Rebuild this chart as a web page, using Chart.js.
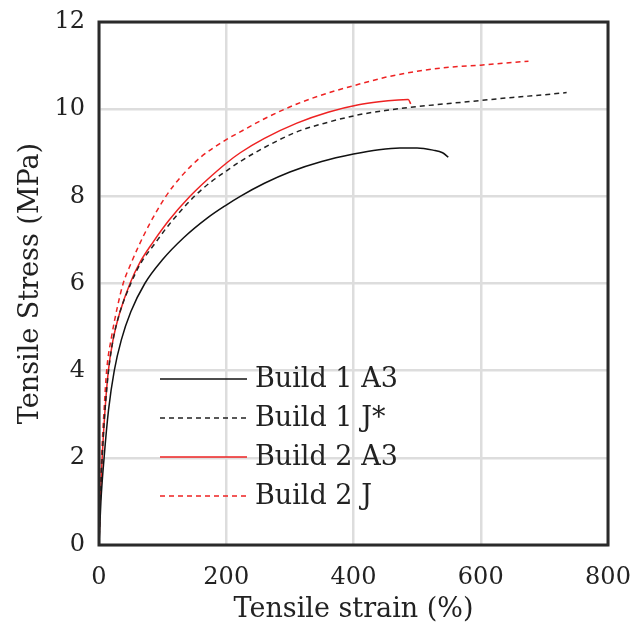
<!DOCTYPE html>
<html>
<head>
<meta charset="utf-8">
<script src="https://cdn.jsdelivr.net/npm/chart.js@4.4.1/dist/chart.umd.min.js"></script>
<style>
  html, body { margin: 0; padding: 0; background: #fff; }
  #wrap { width: 634px; height: 632px; }
</style>
</head>
<body>
<div id="wrap"><canvas id="c" width="634" height="632"></canvas></div>
<script>
// axis ticks
const X_TICKS = [0, 200, 400, 600, 800];
const Y_TICKS = [0, 2, 4, 6, 8, 10, 12];

// curves (strain %, stress MPa)
const B1A3_X = [0, 3, 8, 15, 24, 35, 50, 72, 100, 133, 170, 200, 222, 260, 300, 350, 400, 440, 473, 500, 525, 540, 549];
const B1A3_Y = [0, 1, 2, 3.1, 4, 4.7, 5.35, 6, 6.55, 7.05, 7.5, 7.8, 8.0, 8.3, 8.56, 8.8, 8.97, 9.07, 9.11, 9.11, 9.06, 9.0, 8.9];

const B1J_X = [0, 2, 5, 9, 15, 22, 32, 50, 65, 88, 110, 150, 175, 200, 222, 260, 311, 360, 408, 450, 500, 550, 600, 650, 700, 735];
const B1J_Y = [0, 1, 2, 3, 4, 4.7, 5.3, 6, 6.45, 6.92, 7.35, 8, 8.32, 8.58, 8.8, 9.12, 9.48, 9.7, 9.87, 9.97, 10.06, 10.13, 10.2, 10.27, 10.33, 10.38];

const B2A3_X = [0, 2, 5, 9, 14.7, 22, 32, 48.7, 65, 85, 110, 143, 170, 200, 222, 260, 311, 360, 408, 440, 470, 486, 490];
const B2A3_Y = [0, 1, 2, 3, 4, 4.7, 5.3, 6, 6.5, 6.95, 7.45, 8, 8.38, 8.76, 9.0, 9.33, 9.68, 9.93, 10.1, 10.17, 10.21, 10.22, 10.12];

const B2J_X = [0, 1.5, 4, 8, 12, 20, 28, 38, 50, 62, 80, 105, 130, 160, 200, 222, 260, 311, 360, 408, 450, 500, 550, 600, 640, 675];
const B2J_Y = [0, 1, 2, 3.1, 4, 4.8, 5.4, 6, 6.45, 6.85, 7.38, 8, 8.47, 8.9, 9.3, 9.48, 9.78, 10.12, 10.37, 10.57, 10.73, 10.87, 10.96, 11.01, 11.06, 11.1];

const FONT = "'DejaVu Serif', serif";
const TICK_SIZE = 24;
const LABEL_SIZE = 27;
const TXT = "#222";

const pts = (xs, ys) => xs.map((x, i) => ({ x, y: ys[i] }));

function series(label, xs, ys, color, dash) {
  return {
    label, data: pts(xs, ys),
    borderColor: color, borderWidth: 1.5, borderDash: dash,
    pointRadius: 0, showLine: true, fill: false,
    cubicInterpolationMode: "monotone"
  };
}

// frame + legend drawn inside the plot
const framePlugin = {
  id: "frame",
  afterDraw(chart) {
    const { ctx, chartArea: a } = chart;
    ctx.save();
    ctx.strokeStyle = "#2a2a2a";
    ctx.lineWidth = 3;
    ctx.strokeRect(a.left, a.top, a.right - a.left, a.bottom - a.top);

    // legend
    const rows = [379, 418, 457, 496];
    ctx.font = LABEL_SIZE + "px " + FONT;
    ctx.textBaseline = "middle";
    chart.data.datasets.forEach((ds, i) => {
      const y = rows[i];
      ctx.strokeStyle = ds.borderColor;
      ctx.lineWidth = 1.5;
      ctx.setLineDash(ds.borderDash || []);
      ctx.beginPath();
      ctx.moveTo(160, y); ctx.lineTo(247, y);
      ctx.stroke();
      ctx.setLineDash([]);
      ctx.fillStyle = TXT;
      ctx.fillText(ds.label, 255, y + 1);
    });
    ctx.restore();
  }
};

new Chart(document.getElementById("c"), {
  type: "scatter",
  data: {
    datasets: [
      series("Build 1 A3", B1A3_X, B1A3_Y, "#111", []),
      series("Build 1 J*", B1J_X, B1J_Y, "#222", [5, 4]),
      series("Build 2 A3", B2A3_X, B2A3_Y, "#ee2222", []),
      series("Build 2 J", B2J_X, B2J_Y, "#ee2222", [5, 4])
    ]
  },
  options: {
    responsive: false,
    animation: false,
    layout: { padding: { left: 0, right: 26, top: 22, bottom: 0 } },
    plugins: { legend: { display: false }, tooltip: { enabled: false } },
    scales: {
      x: {
        type: "linear", min: 0, max: 800,
        afterBuildTicks: s => { s.ticks = X_TICKS.map(v => ({ value: v })); },
        afterFit: s => { s.height = 87; s.paddingLeft = 0; s.paddingRight = 0; },
        ticks: { color: TXT, font: { family: FONT, size: TICK_SIZE }, padding: 18, maxRotation: 0 },
        grid: { color: "#dddddd", lineWidth: 2.5, drawTicks: false },
        border: { display: false },
        title: { display: true, text: "Tensile strain (%)", color: TXT,
                 font: { family: FONT, size: LABEL_SIZE }, padding: { top: 0, bottom: 6 } }
      },
      y: {
        type: "linear", min: 0, max: 12,
        afterBuildTicks: s => { s.ticks = Y_TICKS.map(v => ({ value: v })); },
        afterFit: s => { s.width = 99; s.paddingTop = 0; s.paddingBottom = 0; },
        ticks: { color: TXT, font: { family: FONT, size: TICK_SIZE }, padding: 14 },
        grid: { color: "#dddddd", lineWidth: 2.5, drawTicks: false },
        border: { display: false },
        title: { display: true, text: "Tensile Stress (MPa)", color: TXT,
                 font: { family: FONT, size: LABEL_SIZE }, padding: { top: 15, bottom: 0 } }
      }
    }
  },
  plugins: [framePlugin]
});
</script>
</body>
</html>
